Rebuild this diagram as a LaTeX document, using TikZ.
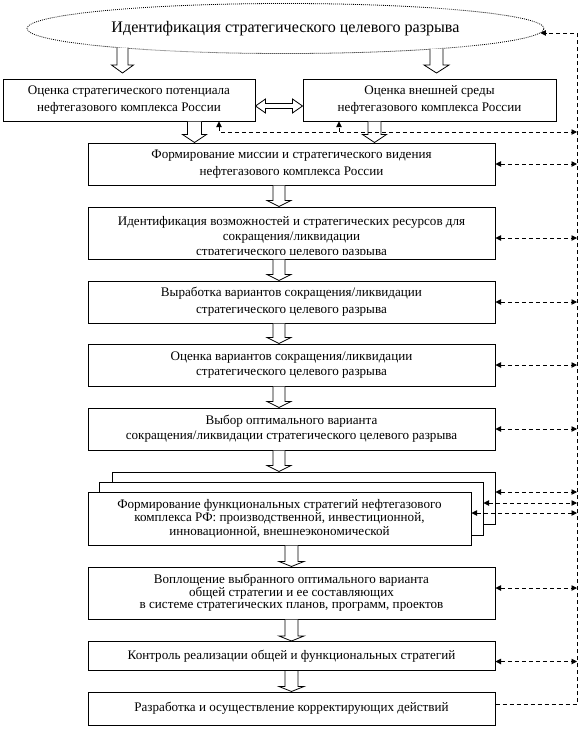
\documentclass[tikz,border=0pt]{standalone}
\usepackage{fontspec}
\setmainfont{Liberation Serif}
\usetikzlibrary{arrows.meta,shapes.geometric,calc}
\newcommand\hdarrow[5]{%
  \draw[hollow] let \p1=(#1), \p2=(#2) in
    ({\x1-#3pt},\y1) -- ({\x1-#3pt},{\y2+#5pt}) -- ({\x1-#4pt},{\y2+#5pt}) -- (\x1,\y2)
    -- ({\x1+#4pt},{\y2+#5pt}) -- ({\x1+#3pt},{\y2+#5pt}) -- ({\x1+#3pt},\y1);}
\begin{document}
\begin{tikzpicture}[x=1pt,y=-1pt,
  >={Triangle[length=5.5pt,width=5.5pt]},
  box/.style={draw, line width=1pt, fill=white, inner sep=0pt, align=center,
    font=\fontsize{13.1}{17}\selectfont},
  hollow/.style={draw, line width=0.8pt, fill=white, line join=miter},
  dline/.style={line width=0.9pt, dash pattern=on 4pt off 3pt},
  boxtext/.style={inner sep=0pt, align=center, font=\fontsize{13.1}{15}\selectfont}]
\useasboundingbox (0,0) rectangle (581,729);
\coordinate (rail) at (577,0);

% ellipse
\node[ellipse, draw, line width=0.8pt, dash pattern=on 0.9pt off 1.1pt, inner sep=0pt,
  minimum width=517pt, minimum height=50pt, font=\fontsize{16.1}{18}\selectfont]
  (ell) at (285.5,28.5) {Идентификация стратегического целевого разрыва};

% top boxes
\node[box, minimum width=252pt, minimum height=42pt] (tl) at (129,100)
  {Оценка стратегического потенциала\\нефтегазового комплекса России};
\node[box, minimum width=253pt, minimum height=42pt] (tr) at (429.5,100)
  {Оценка внешней среды\\нефтегазового комплекса России};

% main column
\node[box, minimum width=407pt, minimum height=42pt] (b1) at (291.5,164)
  {Формирование миссии и стратегического видения\\нефтегазового комплекса России};
\node[box, minimum width=407pt, minimum height=52pt] (b2) at (291.5,233) {};
\begin{scope}
  \clip (88,207) rectangle (495,254);
  \node[boxtext] (b2t) at (291.5,237)
    {Идентификация возможностей  и стратегических ресурсов для\\сокращения/ликвидации\\стратегического целевого разрыва};
\end{scope}
\node[box, minimum width=407pt, minimum height=42pt] (b3) at (291.5,302)
  {Выработка вариантов  сокращения/ликвидации\\стратегического целевого разрыва};
\node[box, minimum width=407pt, minimum height=42pt, font=\fontsize{13.1}{15}\selectfont] (b4) at (291.5,365)
  {Оценка вариантов  сокращения/ликвидации\\стратегического целевого разрыва};
\node[box, minimum width=407pt, minimum height=42pt, font=\fontsize{13.1}{15}\selectfont] (b5) at (291.5,429)
  {Выбор оптимального варианта\\сокращения/ликвидации стратегического целевого разрыва};

% stacked boxes
\node[box, minimum width=383pt, minimum height=52pt] (s3) at (303.5,498) {};
\node[box, minimum width=384pt, minimum height=53pt] (s2) at (291,508.5) {};
\node[box, minimum width=383pt, minimum height=53pt, font=\fontsize{13.1}{13.6}\selectfont] (s1) at (279.5,518.5)
  {Формирование функциональных стратегий нефтегазового\\комплекса РФ: производственной, инвестиционной,\\инновационной, внешнеэкономической};

\node[box, minimum width=407pt, minimum height=52pt, font=\fontsize{13.1}{12.5}\selectfont] (b7) at (291.5,593)
  {Воплощение выбранного оптимального варианта\\общей стратегии и ее составляющих\\в системе стратегических планов, программ, проектов};
\node[box, minimum width=407pt, minimum height=29pt] (b8) at (291.5,656)
  {Контроль реализации общей и функциональных стратегий};
\node[box, minimum width=407pt, minimum height=33pt] (b9) at (291.5,708.5)
  {Разработка и осуществление корректирующих действий};

% hollow arrows
\hdarrow{122.5,47.5}{122.5,73}{5.5}{11}{8}
\hdarrow{436.5,48.5}{436.5,73}{6.5}{12.5}{8}
\hdarrow{tl.south -| 194.5,0}{b1.north -| 194.5,0}{7}{12}{8}
\hdarrow{tr.south -| 374.5,0}{b1.north -| 374.5,0}{6.5}{12}{8}
\hdarrow{b1.south -| 279,0}{b2.north -| 279,0}{6}{12}{6}
\hdarrow{b2.south -| 279,0}{b3.north -| 279,0}{6}{12}{6}
\hdarrow{b3.south -| 279,0}{b4.north -| 279,0}{6}{12}{6}
\hdarrow{b4.south -| 279,0}{b5.north -| 279,0}{6}{12}{6}
\hdarrow{b5.south -| 279,0}{s3.north -| 279,0}{6}{12}{6}
\hdarrow{s1.south -| 291.5,0}{b7.north -| 291.5,0}{6.5}{12.5}{5}
\hdarrow{b7.south -| 291.5,0}{b8.north -| 291.5,0}{6.5}{12.5}{5}
\hdarrow{b8.south -| 291.5,0}{b9.north -| 291.5,0}{6.5}{12.5}{5}

% double hollow arrow between top boxes
\draw[hollow] let \p1=([yshift=-6pt]tl.east), \p2=([yshift=-6pt]tr.west) in
  (\x1,\y1) -- ({\x1+10pt},{\y1+7pt}) -- ({\x1+10pt},{\y1+2.5pt}) -- ({\x2-10pt},{\y1+2.5pt})
  -- ({\x2-10pt},{\y1+7pt}) -- (\x2,\y1) -- ({\x2-10pt},{\y1-7pt}) -- ({\x2-10pt},{\y1-2.5pt})
  -- ({\x1+10pt},{\y1-2.5pt}) -- ({\x1+10pt},{\y1-7pt}) -- cycle;

% dashed feedback lines
\draw[dline, ->] ([yshift=4pt]b9.east) -- ([yshift=4pt]b9.east -| rail) -- (rail |- ell.-1) -- (ell.-1);
\coordinate (j1) at (219,132);
\coordinate (j2) at (339,132);
\draw[dline, <->] (j1 |- tl.south) -- (j1) -- (j1 -| rail);
\draw[dline, ->] (j2) -- (j2 |- tr.south);
\draw[dline, <->] (b1.east) -- (b1.east -| rail);
\draw[dline, <->] ([yshift=-5pt]b2.east) -- ([yshift=-5pt]b2.east -| rail);
\draw[dline, <->] (b3.east) -- (b3.east -| rail);
\draw[dline, <->] (b4.east) -- (b4.east -| rail);
\draw[dline, <->] (b5.east) -- (b5.east -| rail);
\draw[dline, <->] ([yshift=6pt]s3.east) -- ([yshift=6pt]s3.east -| rail);
\draw[dline, <->] ([yshift=5.5pt]s2.east) -- ([yshift=5.5pt]s2.east -| rail);
\draw[dline, <->] ([yshift=5.5pt]s1.east) -- ([yshift=5.5pt]s1.east -| rail);
\draw[dline, <->] ([yshift=5pt]b7.east) -- ([yshift=5pt]b7.east -| rail);
\draw[dline, <->] ([yshift=-5.5pt]b8.east) -- ([yshift=-5.5pt]b8.east -| rail);
\end{tikzpicture}
\end{document}
